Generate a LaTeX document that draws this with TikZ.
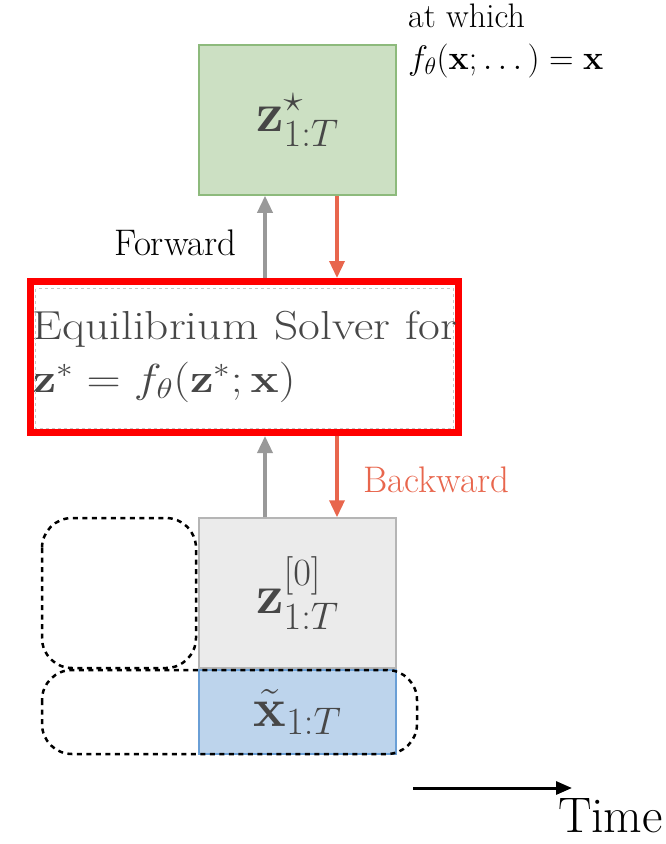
\RequirePackage{fix-cm}
\documentclass[tikz,border=0pt]{standalone}
\usepackage{amsmath,amssymb,amsfonts}
\usepackage{graphicx}
\usepackage{xcolor}
\usepackage{tikz}
\usetikzlibrary{arrows.meta,positioning}

\definecolor{stargreen}{HTML}{CCE0C3}
\definecolor{stargreenline}{HTML}{8DBA7C}
\definecolor{initgray}{HTML}{EBEBEB}
\definecolor{initgrayline}{HTML}{B5B5B5}
\definecolor{inputblue}{HTML}{BDD4EC}
\definecolor{inputblueline}{HTML}{6A9FD6}
\definecolor{fwdgray}{HTML}{999999}
\definecolor{bwdred}{HTML}{E8664D}
\definecolor{labelgray}{HTML}{474747}

\newcommand{\wide}[1]{\scalebox{1.17}[1]{#1}}

\begin{document}
\begin{tikzpicture}[
    x=1pt, y=-1pt,
    box/.style={rectangle, draw, line width=1.5pt, minimum width=197pt, minimum height=150pt, align=center, text=labelgray, font=\fontsize{55}{62}\selectfont},
    fwd/.style={-{Triangle[length=17pt,width=15pt]}, line width=3.5pt, fwdgray},
    bwd/.style={-{Triangle[length=17pt,width=15pt]}, line width=3.5pt, bwdred},
    region/.style={draw, line width=2.5pt, rounded corners=30pt, dash pattern=on 5pt off 4.5pt},
    lbl/.style={font=\fontsize{37}{44}\selectfont, inner sep=0pt}
]
    \useasboundingbox (0,0) rectangle (666,844);

    % boxes
    \node[box, fill=stargreen, draw=stargreenline] (zstar) at (297.5,120) {$\mathbf{z}^{\star}_{1:T}$};
    \node[rectangle, draw=red, line width=7pt, minimum width=428pt, minimum height=151pt,
          align=left, text=labelgray, text width=424pt, inner sep=2pt, font=\fontsize{40.5}{53}\selectfont] (solver) at (244.5,357)
          {\wide{Equilibrium Solver for}\\\wide{$\mathbf{z}^{*} = f_\theta(\mathbf{z}^{*};\mathbf{x})$}};
    \draw[gray!45, line width=1pt, dashed] ([shift={(8.5,10.5)}]solver.north west) rectangle ([shift={(-8.5,-7.5)}]solver.south east);
    \node[box, fill=initgray, draw=initgrayline] (zinit) at (297.5,593) {$\mathbf{z}^{[0]}_{1:T}$};
    \node[box, fill=inputblue, draw=inputblueline, minimum height=84pt] (xin) at (297.5,712) {$\tilde{\mathbf{x}}_{1:T}$};

    % dashed groups
    \draw[region] (42,518) rectangle (196,668);
    \draw[region] (42,670) rectangle (417,754);

    % labels
    \node[lbl, anchor=north west, align=left, font=\fontsize{34}{42}\selectfont] (fixed) at (408,4) {at which\\$f_\theta(\mathbf{x};\dots) = \mathbf{x}$};
    \node[lbl, anchor=east] (fwdlbl) at (237,243) {Forward};
    \node[lbl, anchor=west, text=bwdred] (bwdlbl) at (363,480) {Backward};

    % arrows
    \draw[fwd] ([xshift=-32.5pt]zstar.south |- solver.north) -- ([xshift=-32.5pt]zstar.south);
    \draw[bwd] ([xshift=39.5pt]zstar.south) -- ([xshift=39.5pt]zstar.south |- solver.north);
    \draw[fwd] ([xshift=-32.5pt]zinit.north) -- ([xshift=-32.5pt]zinit.north |- solver.south);
    \draw[bwd] ([xshift=39.5pt]zinit.north |- solver.south) -- ([xshift=39.5pt]zinit.north);

    % time axis
    \coordinate (tstart) at (413,788);
    \coordinate (tend) at (572,788);
    \draw[-{Triangle[length=16pt,width=13pt]}, line width=3pt] (tstart) -- (tend);
    \node[lbl, font=\fontsize{50}{56}\selectfont, anchor=north east] (time) at (663,798) {Time};
\end{tikzpicture}
\end{document}
